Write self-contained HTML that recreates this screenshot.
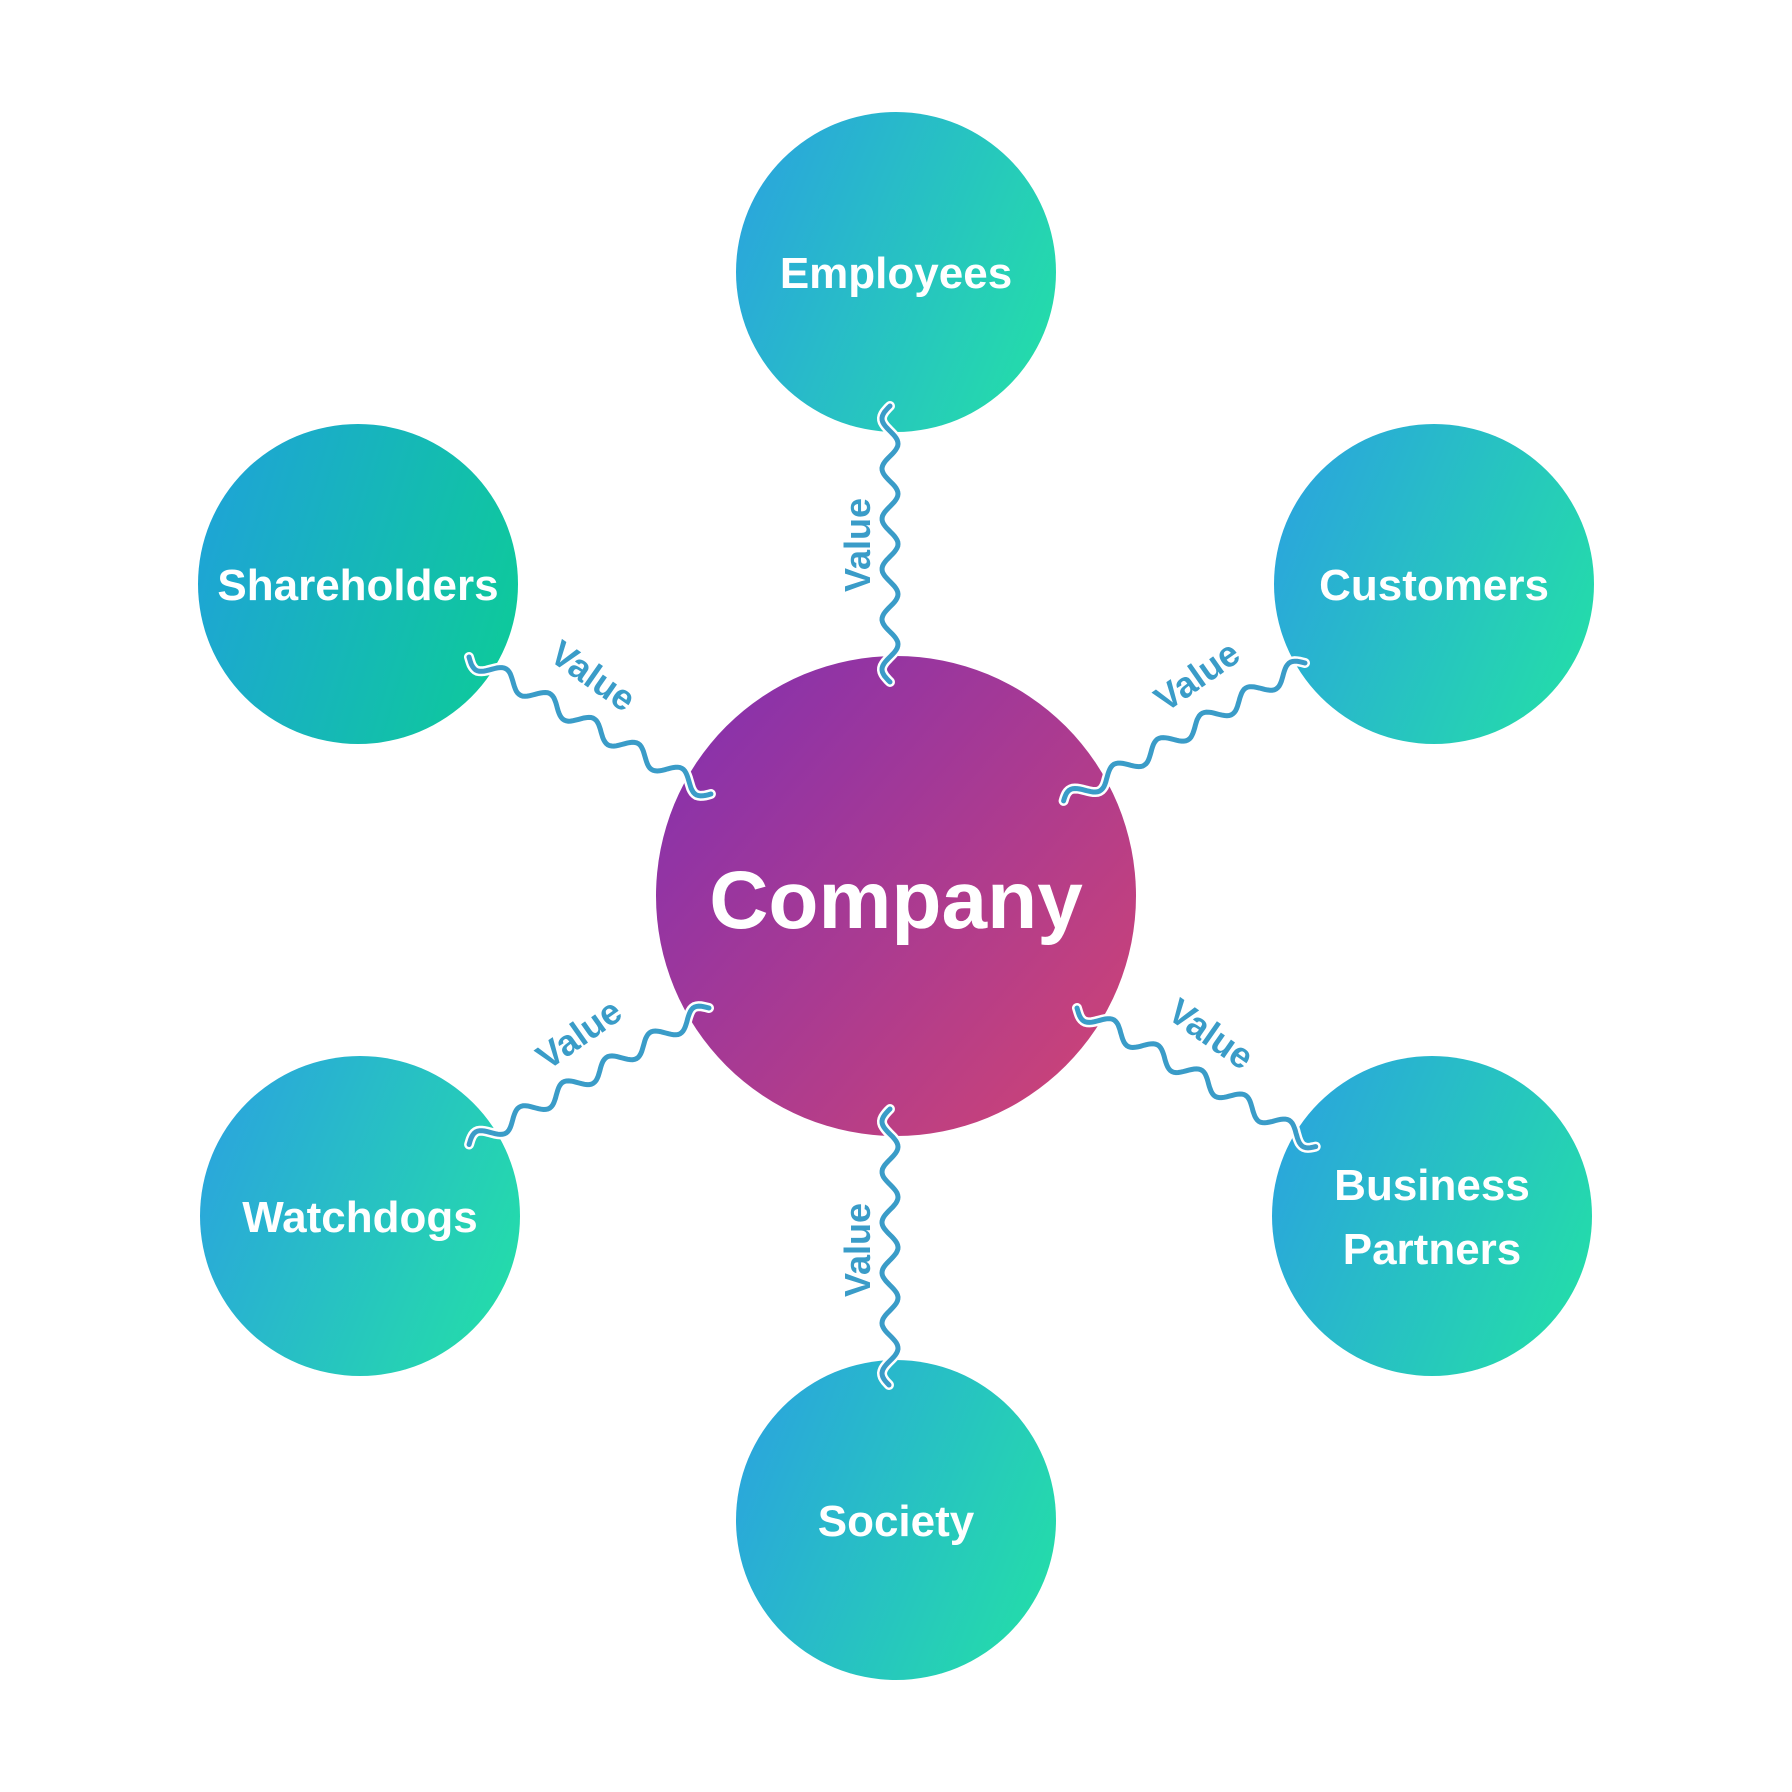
<!DOCTYPE html>
<html><head><meta charset="utf-8"><style>
html,body{margin:0;padding:0;background:#fff;width:1792px;height:1792px;overflow:hidden}
svg{display:block}
text{font-family:"Liberation Sans",sans-serif;font-weight:bold}
</style></head><body>
<svg id="s" width="1792" height="1792" viewBox="0 0 1792 1792">
<defs>
<linearGradient id="g" x1="0" y1="0.3" x2="1" y2="0.7"><stop offset="0" stop-color="#2aa6dc"/><stop offset="1" stop-color="#24dcaa"/></linearGradient>
<linearGradient id="gs" x1="0" y1="0.3" x2="1" y2="0.6"><stop offset="0" stop-color="#1ea4d6"/><stop offset="1" stop-color="#0ec99c"/></linearGradient>
<linearGradient id="gc" x1="0.1" y1="0.15" x2="0.9" y2="0.85"><stop offset="0" stop-color="#8a32aa"/><stop offset="1" stop-color="#c8427a"/></linearGradient>
</defs>
<circle cx="896" cy="896" r="240" fill="url(#gc)"/>
<circle cx="896" cy="272" r="160" fill="url(#g)"/>
<circle cx="896" cy="1520" r="160" fill="url(#g)"/>
<circle cx="358" cy="584" r="160" fill="url(#gs)"/>
<circle cx="1434" cy="584" r="160" fill="url(#g)"/>
<circle cx="360" cy="1216" r="160" fill="url(#g)"/>
<circle cx="1432" cy="1216" r="160" fill="url(#g)"/>
<g id="w"></g>
<g fill="#fff" text-anchor="middle">
<text x="896" y="928" font-size="82">Company</text>
<text x="896" y="288" font-size="44">Employees</text>
<text x="896" y="1536" font-size="44">Society</text>
<text x="358" y="600" font-size="44">Shareholders</text>
<text x="1434" y="600" font-size="44">Customers</text>
<text x="360" y="1232" font-size="44">Watchdogs</text>
<text x="1432" y="1200" font-size="44">Business</text>
<text x="1432" y="1264" font-size="44">Partners</text>
</g>
<g fill="#3a9cc8" text-anchor="middle" font-size="36">
<text transform="translate(870,545) rotate(-90)">Value</text>
<text transform="translate(870,1250) rotate(-90)">Value</text>
<text transform="translate(586,686) rotate(35)">Value</text>
<text transform="translate(1204,686) rotate(-35)">Value</text>
<text transform="translate(586,1044) rotate(-35)">Value</text>
<text transform="translate(1204,1044) rotate(35)">Value</text>
</g>
</svg>
<script>
var segs=[[890,406,890,682],[890,1109,890,1386],[469,657,711,794],[1305,663,1063,803],[709,1008,469,1145],[1077,1008,1318,1146]];
var g=document.getElementById('w'),h='';
segs.forEach(function(s){
var dx=s[2]-s[0],dy=s[3]-s[1],L=Math.hypot(dx,dy),ux=dx/L,uy=dy/L,nx=-uy,ny=ux,d='';
for(var t=0;t<=L;t+=2){var a=8*Math.sin(t/L*Math.PI*2*5.5);var x=s[0]+ux*t+nx*a,y=s[1]+uy*t+ny*a;d+=(t?'L':'M')+x.toFixed(1)+' '+y.toFixed(1);}
h+='<path d="'+d+'" fill="none" stroke="#fff" stroke-width="10" stroke-linecap="round"/><path d="'+d+'" fill="none" stroke="#3a9cc8" stroke-width="5" stroke-linecap="round"/>';
});
g.innerHTML=h;
</script>
</body></html>
